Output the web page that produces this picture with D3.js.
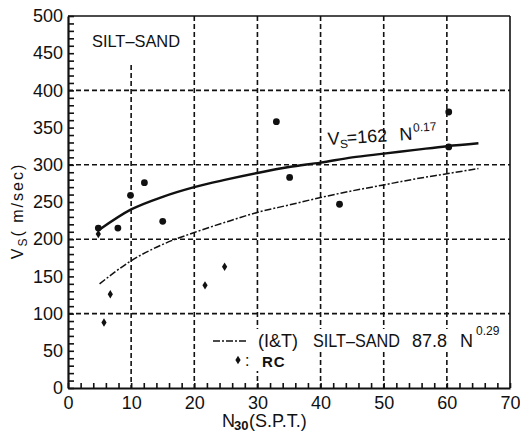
<!DOCTYPE html>
<html>
<head>
<meta charset="utf-8">
<script src="https://cdn.jsdelivr.net/npm/d3@7"></script>
<style>
  body { margin: 0; background: #fff; }
  svg text { font-family: "Liberation Sans", Arial, sans-serif; fill: #111; }
</style>
</head>
<body>
<div id="chart"></div>
<script>
// measured sites (filled circles)
var siteN  = [4.8, 7.9, 9.9, 12.1, 15.0, 33.0, 35.1, 43.0, 60.3, 60.3];
var siteVs = [215, 215, 259, 276, 224, 358, 283, 247, 371, 324];

// RC points (diamonds)
var rcN  = [4.8, 5.7, 6.7, 21.7, 24.8];
var rcVs = [207, 88, 126, 138, 163];

// curves
var curveN = [5, 10, 15, 20, 25, 30, 35, 40, 45, 50, 55, 60, 65];
var fitVs  = [213, 240, 257, 270, 280, 289, 297, 303, 310, 315, 320, 325, 329];   // Vs = 162 N^0.17
var itVs   = [140, 171, 193, 209, 223, 236, 246, 256, 265, 273, 281, 288, 295];   // (I&T) 87.8 N^0.29

var xGrid = [10, 20, 30, 40, 50, 60];
var yGrid = [100, 200, 300, 400];

var svgWidth = 520;
var svgHeight = 432;
var plotLeft = 68, plotRight = 510, plotTop = 16, plotBottom = 388;

var svg = d3.select("#chart")
    .append("svg")
    .attr("width", svgWidth)
    .attr("height", svgHeight);

var x = d3.scaleLinear().domain([0, 70]).range([plotLeft, plotRight]);
var y = d3.scaleLinear().domain([0, 500]).range([plotBottom, plotTop]);

// grid
svg.selectAll(".hgrid")
    .data(yGrid)
    .join("line")
    .attr("x1", plotLeft).attr("x2", plotRight)
    .attr("y1", d => y(d)).attr("y2", d => y(d))
    .attr("stroke", "#111")
    .attr("stroke-width", 1.6)
    .attr("stroke-dasharray", "5,3");

svg.selectAll(".vgrid")
    .data(xGrid)
    .join("line")
    .attr("x1", d => x(d)).attr("x2", d => x(d))
    .attr("y1", d => d === 10 ? y(434) : plotTop)
    .attr("y2", plotBottom)
    .attr("stroke", "#111")
    .attr("stroke-width", 1.6)
    .attr("stroke-dasharray", "5,3");

// frame
svg.append("line").attr("x1", plotLeft).attr("x2", plotRight).attr("y1", plotTop).attr("y2", plotTop)
    .attr("stroke", "#111").attr("stroke-width", 1.6);
svg.append("line").attr("x1", plotRight).attr("x2", plotRight).attr("y1", plotTop).attr("y2", plotBottom)
    .attr("stroke", "#111").attr("stroke-width", 1.6);

// axes
var yAxis = d3.axisLeft(y)
    .tickValues(d3.range(0, 501, 10))
    .tickSizeInner(-6)
    .tickSizeOuter(0)
    .tickPadding(5)
    .tickFormat(d => d % 50 === 0 ? d : "");

var xAxis = d3.axisBottom(x)
    .tickValues(d3.range(0, 71, 2))
    .tickSizeInner(-5)
    .tickSizeOuter(0)
    .tickPadding(8)
    .tickFormat(d => d % 10 === 0 ? d : "");

var gy = svg.append("g").attr("transform", "translate(" + plotLeft + ",0)").call(yAxis);
var gx = svg.append("g").attr("transform", "translate(0," + plotBottom + ")").call(xAxis);

[gy, gx].forEach(function(g) {
    g.select(".domain").attr("stroke", "#111").attr("stroke-width", 2.2);
    g.selectAll(".tick line").attr("stroke", "#111").attr("stroke-width", 1.6);
    g.selectAll(".tick text")
        .attr("fill", "#111")
        .style("font-family", "'Liberation Sans', Arial, sans-serif")
        .style("font-size", "18px");
});

// curves
var line = d3.line()
    .x(d => x(d[0]))
    .y(d => y(d[1]))
    .curve(d3.curveMonotoneX);

svg.append("path")
    .datum(curveN.map((n, i) => [n, itVs[i]]))
    .attr("d", line)
    .attr("fill", "none")
    .attr("stroke", "#111")
    .attr("stroke-width", 1.5)
    .attr("stroke-dasharray", "7,2,2,2");

svg.append("path")
    .datum(curveN.map((n, i) => [n, fitVs[i]]))
    .attr("d", line)
    .attr("fill", "none")
    .attr("stroke", "#111")
    .attr("stroke-width", 2.4);

// points
var diamond = "M0,-4.2L2.6,0L0,4.2L-2.6,0Z";

svg.selectAll(".rc")
    .data(rcN.map((n, i) => [n, rcVs[i]]))
    .join("path")
    .attr("d", diamond)
    .attr("transform", d => "translate(" + x(d[0]) + "," + y(d[1]) + ")")
    .attr("fill", "#111");

svg.selectAll(".site")
    .data(siteN.map((n, i) => [n, siteVs[i]]))
    .join("circle")
    .attr("cx", d => x(d[0]))
    .attr("cy", d => y(d[1]))
    .attr("r", 3.4)
    .attr("fill", "#111");

// labels
svg.append("text")
    .attr("x", 92).attr("y", 47)
    .attr("textLength", 88)
    .attr("lengthAdjust", "spacingAndGlyphs")
    .style("font-size", "17px")
    .text("SILT\u2013SAND");

var ann = svg.append("text")
    .attr("transform", "translate(328,145) rotate(-3.5)")
    .style("font-size", "18px");
ann.append("tspan").attr("x", 0).attr("y", 0).text("V");
ann.append("tspan").attr("x", 12).attr("y", 4).style("font-size", "12px").text("S");
ann.append("tspan").attr("x", 19).attr("y", 0).text("=162");
ann.append("tspan").attr("x", 72).attr("y", 0).text("N");
ann.append("tspan").attr("x", 86).attr("y", -8).style("font-size", "12px").text("0.17");

// legend
svg.append("rect").attr("x", 255).attr("y", 329).attr("width", 243).attr("height", 21).attr("fill", "#fff");
svg.append("rect").attr("x", 232).attr("y", 352).attr("width", 58).attr("height", 19).attr("fill", "#fff");

svg.append("line")
    .attr("x1", 213).attr("x2", 247).attr("y1", 341).attr("y2", 341)
    .attr("stroke", "#111").attr("stroke-width", 1.5)
    .attr("stroke-dasharray", "7,2,2,2");

var leg = svg.append("text").style("font-size", "18px");
leg.append("tspan").attr("x", 258).attr("y", 347).text("(I&T)");
leg.append("tspan").attr("x", 313).attr("y", 347).attr("textLength", 87).attr("lengthAdjust", "spacingAndGlyphs").text("SILT\u2013SAND");
leg.append("tspan").attr("x", 412).attr("y", 347).text("87.8");
leg.append("tspan").attr("x", 460).attr("y", 347).text("N");
leg.append("tspan").attr("x", 476).attr("y", 335).style("font-size", "12px").text("0.29");

svg.append("path")
    .attr("d", diamond)
    .attr("transform", "translate(238,360)")
    .attr("fill", "#111");
svg.append("text").attr("x", 245).attr("y", 366).style("font-size", "16px").text(":");
svg.append("text").attr("x", 262).attr("y", 367)
    .style("font-size", "15px").style("font-weight", "bold").style("letter-spacing", "1px")
    .text("RC");

// axis titles
var xt = svg.append("text").style("font-size", "18px");
xt.append("tspan").attr("x", 222).attr("y", 427).text("N");
xt.append("tspan").attr("x", 234).attr("y", 430).style("font-size", "13px").style("font-weight", "bold").text("30");
xt.append("tspan").attr("x", 249).attr("y", 427).text("(S.P.T.)");

var yt = svg.append("text")
    .attr("transform", "translate(23,211) rotate(-90)")
    .attr("text-anchor", "middle")
    .style("font-size", "16px")
    .style("letter-spacing", "2px");
yt.append("tspan").text("V");
yt.append("tspan").attr("dy", 4).style("font-size", "12px").text("S");
yt.append("tspan").attr("dy", -4).text("( m/sec)");
</script>
</body>
</html>
